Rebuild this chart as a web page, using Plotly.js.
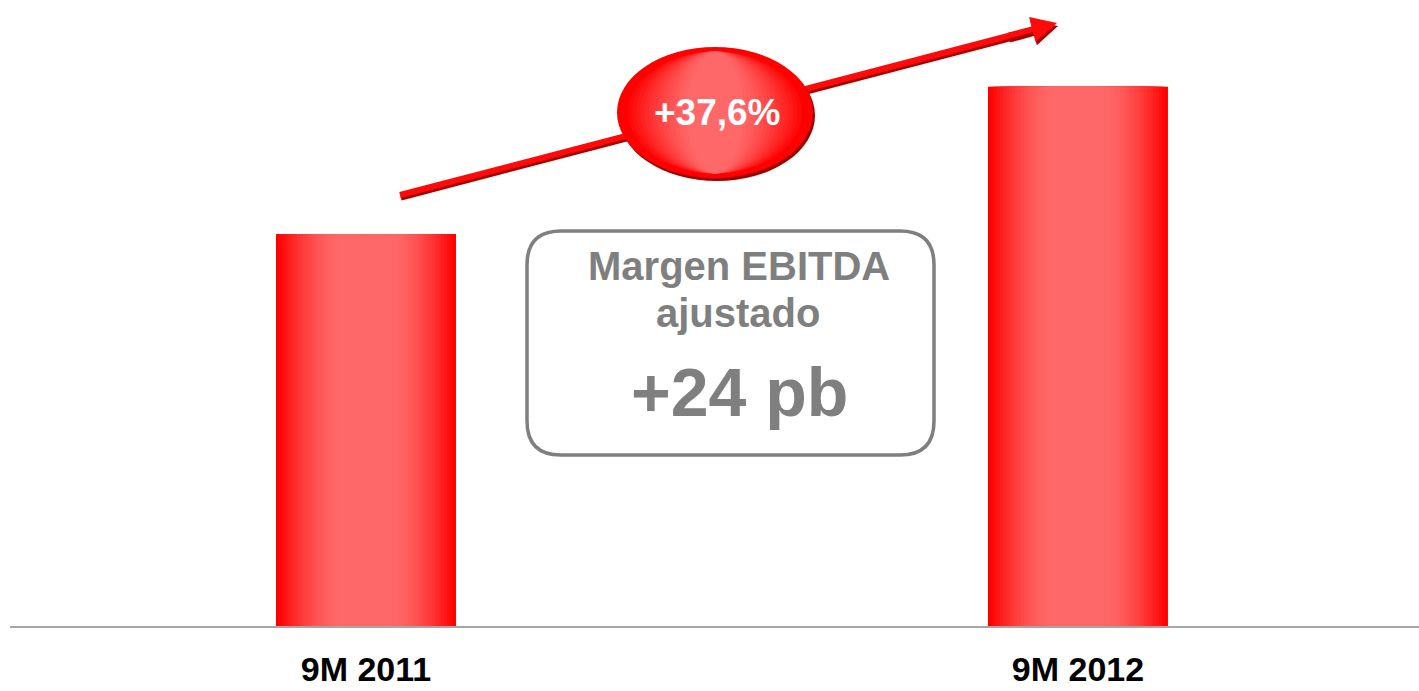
<!DOCTYPE html>
<html>
<head>
<meta charset="utf-8">
<script src="https://cdn.plot.ly/plotly-3.0.1.min.js"></script>
<style>
  html, body { margin: 0; padding: 0; background: #ffffff; }
  #chart { width: 1419px; height: 691px; }
</style>
</head>
<body>
<div id="chart"></div>
<script>
// ---- data ----
const categories = ['9M 2011', '9M 2012'];
const values = [100, 137.6];
const growthLabel = '+37,6%';
const marginTitle = ['Margen EBITDA', 'ajustado'];
const marginValue = '+24 pb';

// ---- geometry helpers (pixel -> paper) ----
const W = 1419, H = 691;
const ML = 10, MR = 0, MT = 0, MB = 65;
const PW = W - ML - MR, PH = H - MT - MB;
const X = px => (px - ML) / PW;
const Y = py => (PH + MT - py) / PH;

function lerp(a, b, t) { return Math.round(a + (b - a) * t); }
function redShade(t) { // t=0 light centre, t=1 pure red edge
  return 'rgb(255,' + lerp(104, 0, t) + ',' + lerp(104, 0, t) + ')';
}

// ---- gradient bars: overlaid bars of decreasing width ----
const barWidth = 0.2528;
const N = 30;
const traces = [];
for (let i = 0; i < N; i++) {
  const f = 1 - i / N;
  let t = Math.max(0, Math.min(1, (f - 0.3) / 0.7));
  t = Math.pow(t, 1.6);
  traces.push({
    type: 'bar',
    x: categories,
    y: values,
    width: barWidth * f,
    marker: { color: redShade(t), line: { width: 0 } },
    hoverinfo: 'skip',
    showlegend: false
  });
}

// ---- shapes ----
const shapes = [];
// arrow shaft (shadow + main)
const tail = [400, 195], shaftEnd = [1012, 35];
shapes.push({ type: 'line', xref: 'paper', yref: 'paper',
  x0: X(tail[0] + 1), y0: Y(tail[1] + 3), x1: X(shaftEnd[0] + 1), y1: Y(shaftEnd[1] + 3),
  line: { color: '#a80000', width: 5 } });
shapes.push({ type: 'line', xref: 'paper', yref: 'paper',
  x0: X(tail[0]), y0: Y(tail[1]), x1: X(shaftEnd[0]), y1: Y(shaftEnd[1]),
  line: { color: '#ff0a0a', width: 6 } });

// ellipse with gradient
const ec = [715, 112.5], erx = 98, ery = 65.5;
function ell(cx, cy, rx, ry, color) {
  return { type: 'circle', xref: 'paper', yref: 'paper',
    x0: X(cx - rx), x1: X(cx + rx), y0: Y(cy + ry), y1: Y(cy - ry),
    fillcolor: color, line: { width: 0 } };
}
shapes.push(ell(ec[0] + 2, ec[1] + 3, erx, ery, '#9e0000'));
shapes.push(ell(ec[0], ec[1], erx, ery, '#ff0000'));
const NE = 22;
for (let i = 0; i < NE; i++) {
  const f = 0.93 * (1 - i / NE);
  let t = Math.max(0, Math.min(1, (f - 0.25) / 0.68));
  t = Math.pow(t, 1.4);
  shapes.push(ell(ec[0], ec[1], erx * f, ery * 0.93, redShade(t)));
}

// rounded box
const bx0 = 527, bx1 = 934, by0 = 231, by1 = 455, r = 34;
const path = [
  'M', X(bx0 + r), Y(by0),
  'L', X(bx1 - r), Y(by0),
  'Q', X(bx1), Y(by0), X(bx1), Y(by0 + r),
  'L', X(bx1), Y(by1 - r),
  'Q', X(bx1), Y(by1), X(bx1 - r), Y(by1),
  'L', X(bx0 + r), Y(by1),
  'Q', X(bx0), Y(by1), X(bx0), Y(by1 - r),
  'L', X(bx0), Y(by0 + r),
  'Q', X(bx0), Y(by0), X(bx0 + r), Y(by0), 'Z'
].join(' ');
shapes.push({ type: 'path', xref: 'paper', yref: 'paper', path: path,
  line: { color: '#7f7f7f', width: 3.5 }, fillcolor: 'rgba(0,0,0,0)' });

// ---- annotations ----
const gray = '#7f7f7f';
const annotations = [
  // arrowhead shadow
  { xref: 'paper', yref: 'paper', x: X(1058), y: Y(26), ax: -50, ay: 14, text: '',
    showarrow: true, arrowhead: 2, arrowsize: 0.85, arrowwidth: 6, arrowcolor: '#a80000' },
  // arrowhead
  { xref: 'paper', yref: 'paper', x: X(1057), y: Y(23), ax: -50, ay: 13, text: '',
    showarrow: true, arrowhead: 2, arrowsize: 0.85, arrowwidth: 6, arrowcolor: '#ff0a0a' },
  { xref: 'paper', yref: 'paper', x: X(717), y: Y(112), text: growthLabel, showarrow: false,
    xanchor: 'center', yanchor: 'middle',
    font: { family: 'Liberation Sans, Arial, sans-serif', size: 37, color: '#ffffff', weight: 700 } },
  { xref: 'paper', yref: 'paper', x: X(739), y: Y(266), text: marginTitle[0], showarrow: false,
    xanchor: 'center', yanchor: 'middle',
    font: { family: 'Liberation Sans, Arial, sans-serif', size: 40, color: gray, weight: 700 } },
  { xref: 'paper', yref: 'paper', x: X(738), y: Y(313), text: marginTitle[1], showarrow: false,
    xanchor: 'center', yanchor: 'middle',
    font: { family: 'Liberation Sans, Arial, sans-serif', size: 40, color: gray, weight: 700 } },
  { xref: 'paper', yref: 'paper', x: X(739), y: Y(392), text: marginValue, showarrow: false,
    xanchor: 'center', yanchor: 'middle',
    font: { family: 'Liberation Sans, Arial, sans-serif', size: 68, color: gray, weight: 700 } }
];

const layout = {
  width: W, height: H,
  margin: { l: ML, r: MR, t: MT, b: MB, pad: 0 },
  paper_bgcolor: '#ffffff', plot_bgcolor: '#ffffff',
  barmode: 'overlay',
  showlegend: false,
  xaxis: {
    type: 'category', range: [-0.5, 1.479],
    showline: true, linecolor: '#a6a6a6', linewidth: 2,
    ticks: '', showgrid: false, zeroline: false, fixedrange: true,
    ticklabelstandoff: 12,
    tickfont: { family: 'Liberation Sans, Arial, sans-serif', size: 34, color: '#000000', weight: 700 }
  },
  yaxis: { visible: false, range: [0, 159.7], fixedrange: true, showgrid: false, zeroline: false },
  shapes: shapes,
  annotations: annotations
};

Plotly.newPlot('chart', traces, layout, { displayModeBar: false, staticPlot: true });
</script>
</body>
</html>
